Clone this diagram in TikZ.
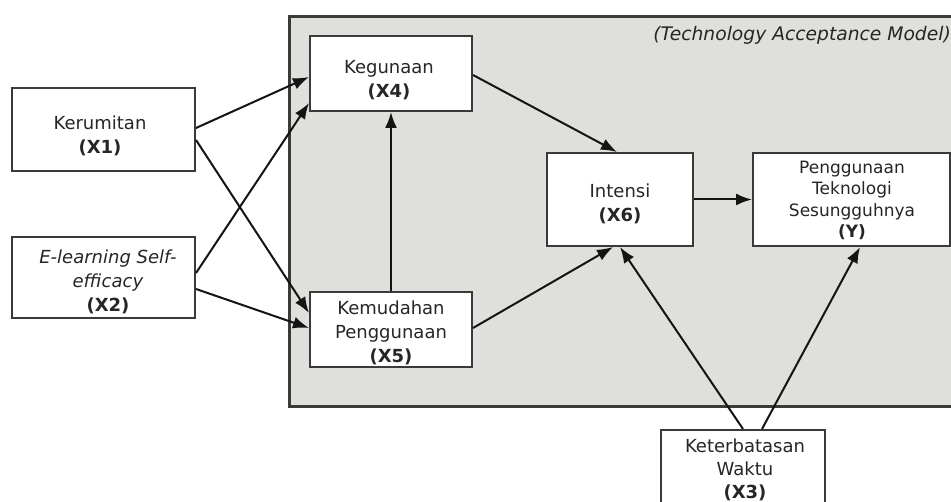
\documentclass[tikz,border=0pt]{standalone}
\usepackage{fontspec}
\setmainfont{DejaVu Sans}[ItalicFont={DejaVu Sans Oblique},BoldFont={DejaVu Sans Bold},BoldItalicFont={DejaVu Sans Bold Oblique}]
\usetikzlibrary{arrows.meta}
\definecolor{panelgray}{HTML}{DFDFDB}
\definecolor{edgegray}{HTML}{3A3A3A}
\definecolor{inkgray}{HTML}{262626}
\tikzset{
  varbox/.style={draw=edgegray,line width=2pt,fill=white,inner sep=0pt},
  lbl/.style={text=inkgray,align=center,inner sep=0pt,font=\fontsize{18}{24}\selectfont},
  conn/.style={draw=black!92,line width=2pt,-{Latex[length=16pt,width=12pt]}}
}
\begin{document}
\begin{tikzpicture}[x=1pt,y=-1pt]
\useasboundingbox (0,0) rectangle (951,502);
\clip (0,0) rectangle (951,502);
\fill[white] (0,0) rectangle (951,502);
% TAM panel
\node[draw=edgegray,line width=2.6pt,fill=panelgray,minimum width=700pt,minimum height=390pt,inner sep=0pt,anchor=north west] (tam) at (288,15) {};
\node[text=inkgray,font=\fontsize{18.7}{22}\selectfont\itshape,anchor=base east,inner sep=0pt] (tamtitle) at (951,41) {(Technology Acceptance Model)};
% boxes
\node[varbox,minimum width=183pt,minimum height=83pt] (x1) at (103.5,129.5) {};
\node[varbox,minimum width=183pt,minimum height=81pt] (x2) at (103.5,277.5) {};
\node[varbox,minimum width=162pt,minimum height=75pt] (x4) at (391,73.5) {};
\node[varbox,minimum width=162pt,minimum height=75pt] (x5) at (391,329.5) {};
\node[varbox,minimum width=146pt,minimum height=93pt] (x6) at (620,199.5) {};
\node[varbox,minimum width=197pt,minimum height=93pt] (yy) at (851.5,199.5) {};
\node[varbox,minimum width=164pt,minimum height=90pt] (x3) at (743,475) {};
% labels
\node[lbl] (t1) at (100,135.8) {Kerumitan\\\textbf{(X1)}};
\node[lbl] (t2) at (108,281.8) {\textit{E-learning Self-}\\\textit{efficacy}\\\textbf{(X2)}};
\node[lbl] (t4) at (389,79.8) {Kegunaan\\\textbf{(X4)}};
\node[lbl] (t5) at (391,332.8) {Kemudahan\\Penggunaan\\\textbf{(X5)}};
\node[lbl] (t6) at (620,203.8) {Intensi\\\textbf{(X6)}};
\node[lbl,font=\fontsize{17}{21.3}\selectfont] (ty) at (852,200.3) {Penggunaan\\Teknologi\\Sesungguhnya\\\textbf{(Y)}};
\node[lbl,font=\fontsize{18}{23}\selectfont] (t3) at (745,470.3) {Keterbatasan\\Waktu\\\textbf{(X3)}};
% connectors
\draw[conn] ([yshift=1.5pt]x1.east) -- ([yshift=-3.5pt]x4.west);
\draw[conn] ([yshift=-10.5pt]x1.east) -- ([yshift=16.5pt]x5.west);
\draw[conn] ([yshift=4.5pt]x2.east) -- ([yshift=-29.5pt]x4.west);
\draw[conn] ([yshift=-11.5pt]x2.east) -- ([yshift=1.5pt]x5.west);
\draw[conn] (x5.north) -- (x4.south);
\draw[conn] ([yshift=-1.5pt]x4.east) -- ([xshift=-3pt]x6.north);
\draw[conn] ([yshift=1.5pt]x5.east) -- ([xshift=-7pt]x6.south);
\draw[conn] (x3.north) -- ([xshift=0pt]x6.south);
\draw[conn] ([xshift=19pt]x3.north) -- ([xshift=8.5pt]yy.south);
\draw[conn] (x6.east) -- (yy.west);
\end{tikzpicture}
\end{document}
